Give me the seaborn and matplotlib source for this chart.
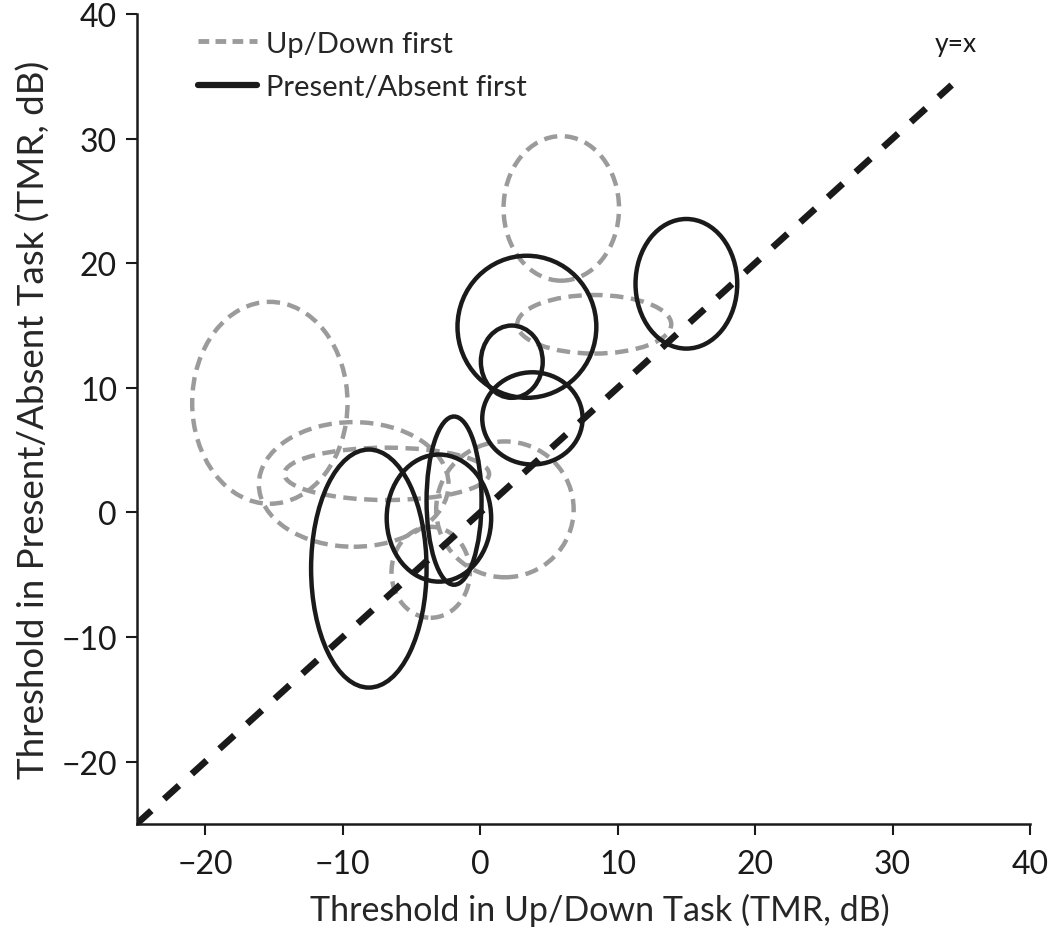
import numpy as np
import pandas as pd
import matplotlib.pyplot as plt
from matplotlib.patches import Ellipse
from matplotlib.lines import Line2D
import seaborn as sns

# ellipse centres and sizes (TMR, dB)
ud_x = [5.9, 8.3, -15.3, -9.2, -6.8, 1.8, -3.6]
ud_y = [24.4, 15.1, 8.8, 2.25, 3.1, 0.25, -4.8]
ud_w = [8.4, 11.2, 11.3, 13.8, 14.9, 10.0, 5.7]
ud_h = [11.6, 4.7, 16.2, 10.0, 4.2, 10.9, 7.3]

pa_x = [15.0, 3.4, 2.3, 3.8, -3.0, -1.9, -8.1]
pa_y = [18.35, 14.9, 12.1, 7.55, -0.45, 0.95, -4.5]
pa_w = [7.4, 10.1, 4.5, 7.3, 7.6, 4.0, 8.4]
pa_h = [10.4, 11.4, 5.8, 7.4, 10.2, 13.5, 19.1]

diag = [-25, 34.3]
ticks = [-20, -10, 0, 10, 20, 30, 40]

sns.set_theme(style="ticks")
plt.rcParams['font.family'] = ['Lato', 'DejaVu Sans']

fig = plt.figure(figsize=(10.5, 9.37), dpi=100)
ax = fig.add_axes([0.130, 0.1195, 0.851, 0.8645])

gray = '#9b9b9b'
for x, y, w, h in zip(ud_x, ud_y, ud_w, ud_h):
    ax.add_patch(Ellipse((x, y), w, h, fill=False, edgecolor=gray, lw=3.2,
                         linestyle=(0, (3.0, 1.7))))
for x, y, w, h in zip(pa_x, pa_y, pa_w, pa_h):
    ax.add_patch(Ellipse((x, y), w, h, fill=False, edgecolor='#1a1a1a', lw=3.2))

diag_df = pd.DataFrame({'x': diag, 'y': diag})
sns.lineplot(data=diag_df, x='x', y='y', ax=ax, color='#1a1a1a', lw=4.8,
             dashes=False, linestyle=(0, (3.0, 2.6)), zorder=3)
ax.text(34.6, 37.6, 'y=x', fontsize=19, ha='center', va='center', color='#1a1a1a')

ax.set_xlim(-25, 40)
ax.set_ylim(-25, 40)
ax.set_xticks(ticks)
ax.set_yticks(ticks)
tick_labels = ['\u221220', '\u221210', '0', '10', '20', '30', '40']
ax.set_xticklabels(tick_labels)
ax.set_yticklabels(tick_labels)
ax.tick_params(labelsize=23, length=8, width=1.5, colors='#1a1a1a')
ax.tick_params(axis='x', pad=10)
ax.tick_params(axis='y', pad=6)
for s in ['left', 'bottom']:
    ax.spines[s].set_linewidth(1.8)
    ax.spines[s].set_color('#1a1a1a')
sns.despine(ax=ax)

ax.set_xlabel('Threshold in Up/Down Task (TMR, dB)', fontsize=24.5, labelpad=12)
ax.xaxis.set_label_coords(0.518, -0.085)
ax.set_ylabel('Threshold in Present/Absent Task (TMR, dB)', fontsize=26.5, labelpad=8)

handles = [Line2D([], [], color=gray, lw=3.5, linestyle=(0, (2.2, 1.3))),
           Line2D([], [], color='#1a1a1a', lw=4.5)]
ax.legend(handles, ['Up/Down first', 'Present/Absent first'], loc='upper left',
          bbox_to_anchor=(0.04, 1.012), frameon=False, fontsize=21,
          handlelength=2.0, handletextpad=0.3, labelspacing=0.6)

fig.savefig('out.png', dpi=100)
